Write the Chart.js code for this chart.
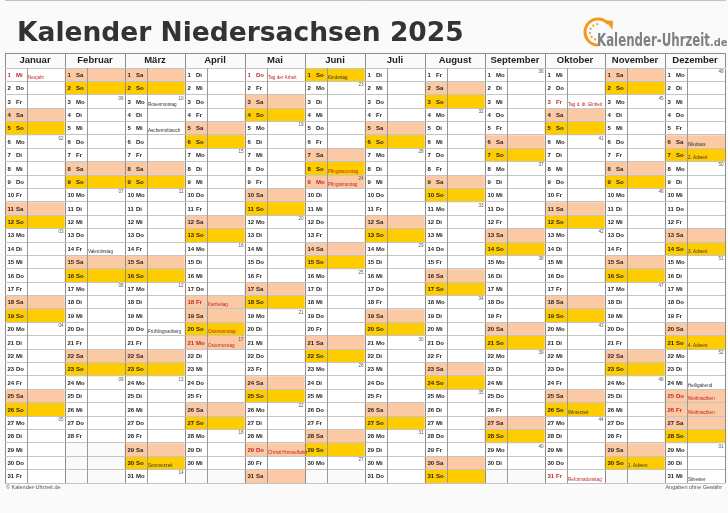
<!DOCTYPE html>
<html lang="de">
<head>
<meta charset="utf-8">
<title>Kalender Niedersachsen 2025</title>
<script src="https://cdn.jsdelivr.net/npm/chart.js@4.4.1/dist/chart.umd.min.js"></script>
<style>
  html, body { margin: 0; padding: 0; background: #fafafa; }
  canvas { display: block; }
</style>
</head>
<body>
<canvas id="kalender" width="728" height="513"></canvas>
<script>
const jahr = 2025;

const monate = ["Januar", "Februar", "März", "April", "Mai", "Juni", "Juli", "August", "September", "Oktober", "November", "Dezember"];

const wochentage = ["So", "Mo", "Di", "Mi", "Do", "Fr", "Sa"];

const tage = [1, 2, 3, 4, 5, 6, 7, 8, 9, 10, 11, 12, 13, 14, 15, 16, 17, 18, 19, 20, 21, 22, 23, 24, 25, 26, 27, 28, 29, 30, 31];

// [monat, tag, name]
const feiertage = [
    [1, 1, "Neujahr"],
    [4, 18, "Karfreitag"],
    [4, 20, "Ostersonntag"],
    [4, 21, "Ostermontag"],
    [5, 1, "Tag der Arbeit"],
    [5, 29, "Christi Himmelfahrt"],
    [6, 8, "Pfingstsonntag"],
    [6, 9, "Pfingstmontag"],
    [10, 3, "Tag d. dt. Einheit"],
    [10, 31, "Reformationstag"],
    [12, 25, "Weihnachten"],
    [12, 26, "Weihnachten"],
];

// Feiertage, die im Kalender wie ein Samstag markiert sind
const freieTage = [[4, 18], [4, 21], [5, 29], [6, 9], [12, 25], [12, 26]];

const termine = [
    [2, 14, "Valentinstag"],
    [3, 3, "Rosenmontag"],
    [3, 5, "Aschermittwoch"],
    [3, 20, "Frühlingsanfang"],
    [3, 30, "Sommerzeit"],
    [6, 1, "Kindertag"],
    [10, 26, "Winterzeit"],
    [11, 30, "1. Advent"],
    [12, 6, "Nikolaus"],
    [12, 7, "2. Advent"],
    [12, 14, "3. Advent"],
    [12, 21, "4. Advent"],
    [12, 24, "Heiligabend"],
    [12, 31, "Silvester"],
];

const farbeSamstag = "#fbc9a3";
const farbeSonntag = "#ffcc00";
const farbeWerktag = "#ffffff";
const rot = "#c0272d";

function tageImMonat(m) {
    return new Date(jahr, m + 1, 0).getDate();
}

function wochentag(m, d) {
    return new Date(jahr, m, d).getDay();
}

function kalenderwoche(m, d) {
    const t = new Date(Date.UTC(jahr, m, d));
    const wd = t.getUTCDay() || 7;
    t.setUTCDate(t.getUTCDate() + 4 - wd);
    const start = new Date(Date.UTC(t.getUTCFullYear(), 0, 1));
    return Math.ceil(((t - start) / 86400000 + 1) / 7);
}

function finde(liste, m, d) {
    return liste.find((e) => e[0] === m + 1 && e[1] === d);
}

function zellfarbe(m, d) {
    if (d > tageImMonat(m)) return farbeWerktag;
    const wd = wochentag(m, d);
    if (wd === 0) return farbeSonntag;
    if (wd === 6 || finde(freieTage, m, d)) return farbeSamstag;
    return farbeWerktag;
}

const datensaetze = tage.map((d) => ({
    label: "Tag " + d,
    data: monate.map((_, m) => (d <= tageImMonat(m) ? [d - 1, d] : null)),
    backgroundColor: monate.map((_, m) => zellfarbe(m, d)),
    borderWidth: 0,
    grouped: false,
    categoryPercentage: 1,
    barPercentage: 1,
}));

const kalenderText = {
    id: "kalenderText",
    afterDraw(chart) {
        const ctx = chart.ctx;
        const xs = chart.scales.x;
        const area = chart.chartArea;

        ctx.save();

        // Titel
        ctx.fillStyle = "#333333";
        ctx.font = "bold 26.5px 'DejaVu Sans'";
        ctx.textBaseline = "alphabetic";
        ctx.textAlign = "left";
        ctx.fillText("Kalender Niedersachsen 2025", 17, 41);

        // Logo
        const cx = 598, cy = 32, r = 13;
        ctx.strokeStyle = "#f39a1e";
        ctx.fillStyle = "#f39a1e";
        ctx.lineWidth = 3;
        ctx.beginPath();
        ctx.arc(cx, cy, r, 0.5 * Math.PI, 1.78 * Math.PI);
        ctx.stroke();
        const a = 1.78 * Math.PI;
        const ex = cx + r * Math.cos(a), ey = cy + r * Math.sin(a);
        ctx.beginPath();
        ctx.moveTo(ex + 4.5, ey + 6);
        ctx.lineTo(ex - 3, ey - 3.5);
        ctx.lineTo(ex + 5, ey - 3);
        ctx.closePath();
        ctx.fill();
        for (let i = 0; i < 6; i++) {
            const b = (0.62 + i * 0.17) * Math.PI;
            ctx.beginPath();
            ctx.arc(cx + 8 * Math.cos(b), cy + 8 * Math.sin(b), 1.1, 0, 2 * Math.PI);
            ctx.fill();
        }
        ctx.fillStyle = "#808080";
        ctx.font = "bold 17px 'DejaVu Sans Condensed'";
        ctx.fillText("Kalender-Uhrzeit", 597, 46, 113);
        ctx.font = "bold 11px 'DejaVu Sans Condensed'";
        ctx.fillText(".de", 710, 46);

        // obere Linie der Kopfzeile
        ctx.strokeStyle = "#8c8c8c";
        ctx.lineWidth = 1;
        ctx.beginPath();
        ctx.moveTo(xs.left, Math.round(xs.top) + 0.5);
        ctx.lineTo(xs.right, Math.round(xs.top) + 0.5);
        ctx.stroke();

        // Zellen
        monate.forEach((_, m) => {
            const n = tageImMonat(m);
            const first = chart.getDatasetMeta(0).data[m];
            const links = first.x - first.width / 2;
            const teiler = Math.round(links + 21.5) + 0.5;

            ctx.strokeStyle = "#9a9a9a";
            ctx.beginPath();
            ctx.moveTo(teiler, area.top);
            ctx.lineTo(teiler, area.bottom);
            ctx.stroke();

            for (let d = 1; d <= n; d++) {
                const bar = chart.getDatasetMeta(d - 1).data[m];
                const x0 = bar.x - bar.width / 2;
                const x1 = bar.x + bar.width / 2;
                const oben = Math.min(bar.y, bar.base);
                const unten = Math.max(bar.y, bar.base);
                const mitte = (oben + unten) / 2;
                const wd = wochentag(m, d);
                const fei = finde(feiertage, m, d);
                const term = finde(termine, m, d);

                ctx.textBaseline = "middle";
                ctx.textAlign = "left";
                ctx.fillStyle = fei && wd !== 0 ? rot : "#1e1e1e";
                ctx.font = "bold 6px 'Liberation Sans'";
                ctx.fillText(String(d), x0 + 2.5, mitte + 0.5);
                ctx.fillText(wochentage[wd], x0 + 11, mitte + 0.5);

                if (fei || term) {
                    ctx.fillStyle = fei ? rot : "#333333";
                    ctx.font = "4.6px 'Liberation Sans'";
                    ctx.textBaseline = "alphabetic";
                    ctx.fillText((fei || term)[2], x0 + 23, unten - 2.5);
                }

                if (wd === 1) {
                    ctx.fillStyle = "#555555";
                    ctx.font = "4.6px 'Liberation Sans'";
                    ctx.textAlign = "right";
                    ctx.textBaseline = "middle";
                    ctx.fillText(String(kalenderwoche(m, d)).padStart(2, "0"), x1 - 1.5, oben + 3.5);
                }
            }
        });

        // Fusszeile
        ctx.fillStyle = "#555555";
        ctx.font = "5.5px 'Liberation Sans'";
        ctx.textBaseline = "middle";
        ctx.textAlign = "left";
        ctx.fillText("© Kalender-Uhrzeit.de", 6, area.bottom + 4);
        ctx.textAlign = "right";
        ctx.fillText("Angaben ohne Gewähr", 722, area.bottom + 4);

        ctx.restore();
    },
};

new Chart(document.getElementById("kalender"), {
    type: "bar",
    data: {
        labels: monate,
        datasets: datensaetze,
    },
    options: {
        responsive: false,
        animation: false,
        events: [],
        layout: {
            padding: { left: 5, right: 3, top: 53, bottom: 30 },
        },
        plugins: {
            legend: { display: false },
            tooltip: { enabled: false },
        },
        scales: {
            x: {
                position: "top",
                offset: true,
                grid: { offset: true, color: "#8c8c8c", tickLength: 15, z: 1 },
                border: { color: "#8c8c8c" },
                ticks: {
                    color: "#1e1e1e",
                    font: { family: "Liberation Sans", weight: "bold", size: 9.5 },
                    padding: -13,
                    maxRotation: 0,
                    autoSkip: false,
                },
                afterFit: (s) => {
                    s.height = 15;
                },
            },
            y: {
                min: 0,
                max: 31,
                reverse: true,
                ticks: { display: false, stepSize: 1 },
                grid: { color: "#c4c4c4", drawTicks: false, z: 1 },
                border: { display: false },
                afterFit: (s) => {
                    s.width = 0;
                },
            },
        },
    },
    plugins: [kalenderText],
});
</script>
</body>
</html>
